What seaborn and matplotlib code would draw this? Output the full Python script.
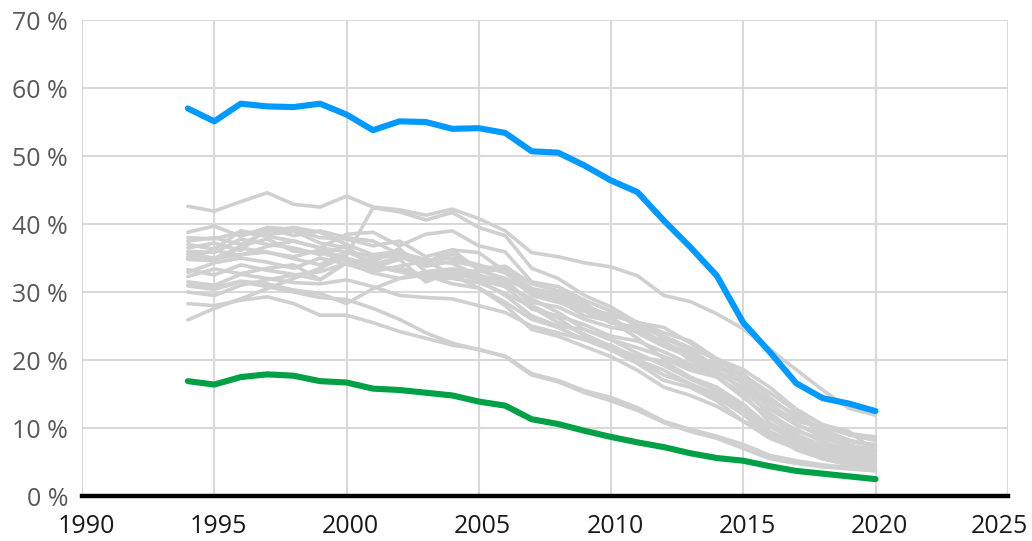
import matplotlib
matplotlib.use("Agg")
import matplotlib.pyplot as plt
import matplotlib.transforms as mtransforms
import seaborn as sns
import pandas as pd

years = list(range(1994, 2021))

blue_values = [57.0, 55.1, 57.7, 57.3, 57.2, 57.7, 56.1, 53.8, 55.1, 55.0, 54.0, 54.1, 53.4,
               50.7, 50.5, 48.6, 46.4, 44.7, 40.5, 36.6, 32.4, 25.5, 21.2, 16.6, 14.4, 13.6, 12.5]
green_values = [16.9, 16.4, 17.5, 17.9, 17.7, 16.9, 16.7, 15.8, 15.6, 15.2, 14.8, 13.9, 13.3,
                11.3, 10.6, 9.6, 8.7, 7.9, 7.2, 6.3, 5.6, 5.2, 4.4, 3.7, 3.3, 2.9, 2.5]

gray_series = {
    "g01": [42.6, 41.9, 43.3, 44.6, 42.9, 42.5, 44.1, 42.5, 42.1, 41.3, 42.2, 40.8, 39.0, 35.8, 35.2, 34.3, 33.7, 32.4, 29.5, 28.6, 26.8, 24.6, 21.6, 18.6, 15.6, 12.9, 11.9],
    "g02": [25.9, 27.6, 29.0, 30.5, 32.0, 33.5, 35.4, 42.4, 41.8, 40.6, 41.7, 39.5, 38.3, 33.5, 32.0, 29.5, 27.8, 25.5, 24.8, 22.5, 19.8, 18.0, 14.5, 11.5, 9.5, 8.2, 7.4],
    "g03": [38.8, 39.7, 38.2, 39.5, 39.2, 38.0, 37.8, 36.8, 37.5, 35.2, 36.2, 35.8, 33.0, 30.5, 29.8, 28.0, 26.5, 25.6, 24.0, 22.8, 20.2, 18.6, 16.0, 12.8, 10.5, 9.2, 8.7],
    "g04": [38.0, 37.8, 38.8, 38.2, 37.5, 36.5, 38.5, 38.8, 36.8, 38.5, 39.0, 36.8, 35.9, 31.5, 30.8, 28.8, 27.2, 25.0, 23.5, 21.8, 20.1, 17.5, 13.5, 11.0, 10.2, 9.0, 8.2],
    "g05": [37.5, 38.0, 37.0, 38.9, 39.5, 38.8, 37.0, 35.5, 36.0, 34.2, 35.6, 33.5, 33.8, 31.2, 30.2, 28.5, 25.5, 24.5, 22.5, 20.5, 19.5, 16.5, 12.8, 10.5, 9.1, 8.0, 7.6],
    "g06": [37.0, 36.3, 39.0, 38.4, 39.0, 37.2, 36.5, 34.0, 35.2, 33.8, 34.5, 33.8, 33.0, 29.5, 28.5, 27.2, 26.8, 25.5, 23.2, 21.5, 19.0, 17.0, 14.0, 12.0, 9.8, 8.2, 7.2],
    "g07": [36.5, 37.2, 36.1, 39.4, 38.3, 39.0, 38.0, 37.5, 35.5, 34.3, 36.2, 33.2, 32.0, 30.0, 29.5, 27.5, 26.2, 24.0, 22.0, 20.5, 18.5, 15.5, 12.2, 9.5, 8.5, 7.5, 6.8],
    "g08": [36.0, 35.8, 37.8, 37.0, 36.5, 35.5, 36.8, 33.6, 34.8, 31.5, 33.0, 32.5, 31.5, 28.5, 27.8, 26.0, 24.8, 24.2, 22.8, 20.0, 18.2, 16.8, 13.5, 10.5, 8.8, 7.2, 6.4],
    "g09": [35.6, 35.0, 36.5, 35.8, 35.2, 36.2, 35.0, 33.8, 33.2, 32.5, 32.8, 31.8, 30.8, 27.5, 26.5, 25.2, 23.5, 22.8, 21.2, 19.4, 18.0, 16.0, 11.8, 9.8, 8.0, 6.8, 6.0],
    "g10": [35.2, 36.1, 35.4, 36.7, 37.5, 36.5, 35.9, 34.4, 36.4, 33.0, 33.4, 33.0, 33.4, 30.5, 28.8, 26.5, 25.8, 23.2, 20.2, 18.5, 17.5, 14.5, 11.5, 9.0, 7.5, 6.5, 5.7],
    "g11": [35.0, 34.9, 35.5, 35.9, 34.9, 34.0, 36.0, 35.2, 35.8, 34.8, 34.2, 32.4, 31.0, 29.0, 27.0, 24.5, 23.0, 21.8, 20.5, 19.0, 17.5, 15.0, 10.8, 8.5, 7.0, 6.0, 5.4],
    "g12": [34.8, 34.6, 36.8, 37.8, 36.0, 35.8, 34.6, 33.4, 33.6, 32.2, 32.0, 31.4, 29.8, 27.8, 25.5, 23.8, 22.0, 20.5, 19.8, 17.5, 16.0, 13.5, 10.2, 8.2, 6.8, 5.8, 5.1],
    "g13": [33.3, 32.5, 34.0, 33.2, 32.6, 31.8, 34.4, 33.8, 33.0, 32.0, 33.2, 31.8, 29.5, 26.5, 25.0, 24.5, 23.0, 21.0, 19.2, 17.2, 15.5, 13.0, 9.5, 7.8, 6.5, 5.5, 4.8],
    "g14": [32.9, 34.3, 35.0, 34.4, 33.5, 35.0, 34.1, 33.0, 33.8, 34.6, 32.5, 30.6, 28.5, 26.0, 24.8, 23.0, 22.2, 20.0, 18.5, 16.5, 15.0, 12.5, 9.0, 7.5, 6.2, 5.3, 4.5],
    "g15": [32.3, 33.4, 32.7, 33.5, 34.0, 31.8, 34.3, 32.8, 32.0, 33.0, 32.4, 32.2, 32.0, 28.0, 26.2, 23.5, 21.5, 19.8, 17.8, 16.5, 14.5, 12.0, 8.8, 7.2, 5.8, 4.8, 4.2],
    "g16": [31.5, 31.0, 32.6, 32.0, 31.4, 31.2, 31.8, 30.8, 29.5, 29.2, 29.0, 28.0, 27.0, 25.0, 24.0, 23.0, 21.5, 19.5, 17.0, 16.0, 14.0, 11.0, 8.5, 7.0, 5.5, 4.6, 4.0],
    "g17": [31.0, 30.7, 31.6, 31.2, 30.3, 29.8, 28.3, 30.5, 32.0, 32.5, 31.2, 30.6, 28.0, 24.5, 23.5, 22.0, 20.5, 18.5, 16.0, 14.8, 13.2, 11.0, 9.5, 6.8, 5.5, 4.6, 3.8],
    "g18": [28.3, 28.0, 28.8, 29.3, 28.3, 26.6, 26.6, 25.5, 24.2, 23.2, 22.2, 21.6, 20.5, 17.8, 16.8, 15.2, 14.0, 12.6, 10.8, 9.5, 8.5, 7.0, 5.5, 4.8, 4.3, 4.0, 3.7],
    "g19": [30.9, 30.4, 31.5, 30.8, 30.0, 29.2, 28.9, 27.6, 26.0, 24.0, 22.5, 21.5, 20.6, 18.0, 17.0, 15.5, 14.5, 13.0, 11.0, 9.8, 8.8, 7.6, 6.0, 5.2, 4.6, 4.2, 3.9],
    "g20": [30.0, 29.5, 31.0, 31.8, 32.5, 33.0, 34.2, 35.0, 35.4, 34.6, 35.0, 34.0, 32.8, 29.8, 29.0, 27.2, 25.5, 24.8, 22.5, 21.0, 19.0, 17.8, 15.2, 12.5, 10.5, 9.5, 6.6],
}

y_ticks = [0, 10, 20, 30, 40, 50, 60, 70]
y_labels = [f"{v} %" for v in y_ticks]
x_ticks = [1990, 1995, 2000, 2005, 2010, 2015, 2020, 2025]
x_labels = [str(v) for v in x_ticks]

sns.set_theme(style="white")
plt.rcParams["font.family"] = ["Open Sans", "DejaVu Sans"]

gray_df = pd.DataFrame(
    [(name, yr, val) for name, vals in gray_series.items() for yr, val in zip(years, vals)],
    columns=["series", "year", "value"],
)
blue_df = pd.DataFrame({"year": years, "value": blue_values})
green_df = pd.DataFrame({"year": years, "value": green_values})

fig = plt.figure(figsize=(10.32, 5.41), dpi=100)
ax = fig.add_axes([0.0795, 0.083, 0.897, 0.880])

sns.lineplot(data=gray_df, x="year", y="value", hue="series",
             palette={k: "#d0d0d0" for k in gray_series}, linewidth=2.6,
             legend=False, ax=ax, zorder=3)
sns.lineplot(data=blue_df, x="year", y="value", color="#0099ff", linewidth=4.4,
             ax=ax, zorder=4, solid_capstyle="round")
sns.lineplot(data=green_df, x="year", y="value", color="#00a046", linewidth=4.4,
             ax=ax, zorder=4, solid_capstyle="round")

ax.set_xlim(1990, 2025)
ax.set_ylim(0, 70)
ax.set_xticks(x_ticks)
ax.set_xticklabels(x_labels, fontsize=18, color="#1a1a1a")
ax.set_yticks(y_ticks)
ax.set_yticklabels(y_labels, fontsize=18, color="#595959")
ax.tick_params(axis="both", length=0)
ax.tick_params(axis="y", pad=10)
ax.tick_params(axis="x", pad=13)
ax.grid(True, color="#d9d9d9", linewidth=1.5, zorder=0)
ax.set_axisbelow(True)
for s in ["top", "right", "left"]:
    ax.spines[s].set_visible(False)
ax.spines["bottom"].set_color("#000000")
ax.spines["bottom"].set_linewidth(3.2)
ax.spines["bottom"].set_zorder(5)
ax.set_xlabel("")
ax.set_ylabel("")

xlabels_objs = ax.get_xticklabels()
for i, lab in enumerate(xlabels_objs):
    dx = 4 if i < len(xlabels_objs) - 1 else -8
    lab.set_transform(lab.get_transform() + mtransforms.ScaledTranslation(dx / 100, 0, fig.dpi_scale_trans))

fig.savefig("out.png", dpi=100)
